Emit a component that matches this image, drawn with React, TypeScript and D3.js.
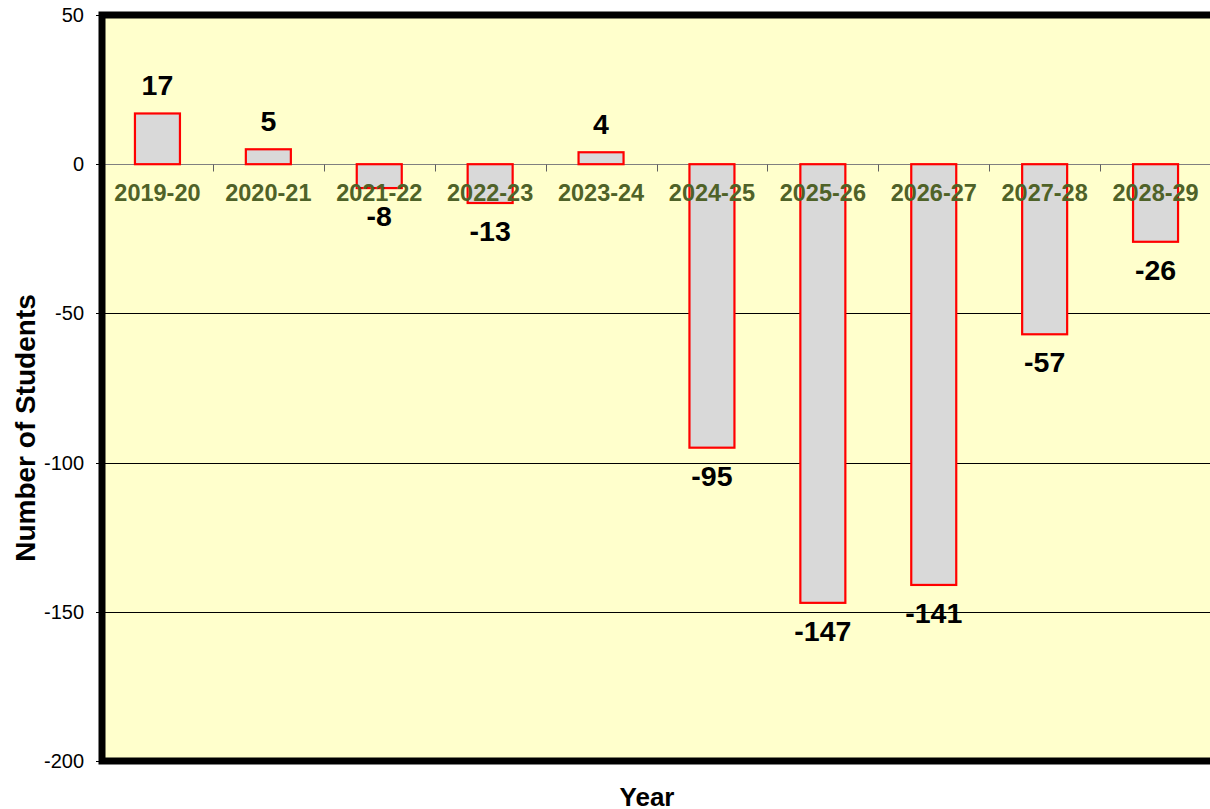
import * as d3 from 'd3';
import React, { useEffect, useRef } from 'react';

const years = [
  '2019-20',
  '2020-21',
  '2021-22',
  '2022-23',
  '2023-24',
  '2024-25',
  '2025-26',
  '2026-27',
  '2027-28',
  '2028-29'
];
const changes = [17, 5, -8, -13, 4, -95, -147, -141, -57, -26];
const yTicks = [50, 0, -50, -100, -150, -200];
const gridValues = [-50, -100, -150];

const FONT = '"Liberation Sans", Arial, Helvetica, sans-serif';

export default function App() {
  const svgRef = useRef<SVGSVGElement | null>(null);

  useEffect(() => {
    const width = 1210;
    const height = 809;

    d3.select(svgRef.current).selectAll('*').remove();

    // plot area edges (border centre line); the right edge runs past the picture
    const margin = { top: 15, right: -1, bottom: 48, left: 102 };
    const plotRight = width - margin.right;
    const plotBottom = height - margin.bottom;

    const svg = d3
      .select(svgRef.current)
      .attr('width', width)
      .attr('height', height);

    const xScale = d3
      .scaleBand<string>()
      .domain(years)
      .range([margin.left, plotRight])
      .paddingInner(0)
      .paddingOuter(0);

    const yScale = d3
      .scaleLinear()
      .domain([50, -200])
      .range([margin.top, plotBottom]);

    const barWidth = 45;

    // background of the plot area
    svg
      .append('rect')
      .attr('x', margin.left)
      .attr('y', margin.top)
      .attr('width', plotRight - margin.left + 20)
      .attr('height', plotBottom - margin.top)
      .attr('fill', '#FFFFCC');

    // gridlines
    svg
      .selectAll('.grid')
      .data(gridValues)
      .enter()
      .append('line')
      .attr('class', 'grid')
      .attr('x1', margin.left)
      .attr('x2', plotRight + 20)
      .attr('y1', (d) => Math.round(yScale(d)) + 0.5)
      .attr('y2', (d) => Math.round(yScale(d)) + 0.5)
      .attr('stroke', '#000')
      .attr('stroke-width', 1);

    // zero line and category ticks
    const y0 = Math.round(yScale(0)) + 0.5;
    svg
      .append('line')
      .attr('x1', margin.left)
      .attr('x2', plotRight + 20)
      .attr('y1', y0)
      .attr('y2', y0)
      .attr('stroke', '#808080')
      .attr('stroke-width', 1.2);

    svg
      .selectAll('.xtick')
      .data(years.slice(1))
      .enter()
      .append('line')
      .attr('class', 'xtick')
      .attr('x1', (d) => Math.round(xScale(d)!) + 0.5)
      .attr('x2', (d) => Math.round(xScale(d)!) + 0.5)
      .attr('y1', y0)
      .attr('y2', y0 + 7)
      .attr('stroke', '#606060')
      .attr('stroke-width', 1);

    // bars
    svg
      .selectAll('.bar')
      .data(changes)
      .enter()
      .append('rect')
      .attr('class', 'bar')
      .attr('x', (_, i) => xScale(years[i])! + xScale.bandwidth() / 2 - barWidth / 2)
      .attr('y', (d) => yScale(Math.max(0, d)))
      .attr('width', barWidth)
      .attr('height', (d) => Math.abs(yScale(d) - yScale(0)))
      .attr('fill', '#D9D9D9')
      .attr('stroke', '#FF0000')
      .attr('stroke-width', 2.2);

    // category labels (drawn over the bars)
    svg
      .selectAll('.cat')
      .data(years)
      .enter()
      .append('text')
      .attr('class', 'cat')
      .attr('x', (d) => xScale(d)! + xScale.bandwidth() / 2)
      .attr('y', 201)
      .attr('text-anchor', 'middle')
      .style('font-family', FONT)
      .style('font-size', '23.5px')
      .style('font-weight', 'bold')
      .attr('fill', '#4F6228')
      .text((d) => d);

    // value labels
    svg
      .selectAll('.val')
      .data(changes)
      .enter()
      .append('text')
      .attr('class', 'val')
      .attr('x', (_, i) => xScale(years[i])! + xScale.bandwidth() / 2)
      .attr('y', (d) => (d >= 0 ? yScale(d) - 18 : yScale(d) + 38))
      .attr('text-anchor', 'middle')
      .style('font-family', FONT)
      .style('font-size', '28.5px')
      .style('font-weight', 'bold')
      .attr('fill', '#000')
      .text((d) => String(d));

    // plot border (right side falls outside the picture)
    svg
      .append('rect')
      .attr('x', margin.left)
      .attr('y', margin.top)
      .attr('width', plotRight - margin.left + 20)
      .attr('height', plotBottom - margin.top)
      .attr('fill', 'none')
      .attr('stroke', '#000')
      .attr('stroke-width', 7);

    // y axis ticks and labels
    svg
      .selectAll('.ytick')
      .data(yTicks)
      .enter()
      .append('line')
      .attr('class', 'ytick')
      .attr('x1', margin.left - 6)
      .attr('x2', margin.left)
      .attr('y1', (d) => Math.round(yScale(d)) + 0.5)
      .attr('y2', (d) => Math.round(yScale(d)) + 0.5)
      .attr('stroke', '#000')
      .attr('stroke-width', 1);

    svg
      .selectAll('.ylab')
      .data(yTicks)
      .enter()
      .append('text')
      .attr('class', 'ylab')
      .attr('x', 84)
      .attr('y', (d) => yScale(d) + 7)
      .attr('text-anchor', 'end')
      .style('font-family', FONT)
      .style('font-size', '20px')
      .attr('fill', '#000')
      .text((d) => String(d));

    // axis titles
    svg
      .append('text')
      .attr('transform', `translate(35,428) rotate(-90)`)
      .attr('text-anchor', 'middle')
      .style('font-family', FONT)
      .style('font-size', '28px')
      .style('font-weight', 'bold')
      .attr('fill', '#000')
      .text('Number of Students');

    svg
      .append('text')
      .attr('x', 647)
      .attr('y', 806)
      .attr('text-anchor', 'middle')
      .style('font-family', FONT)
      .style('font-size', '26px')
      .style('font-weight', 'bold')
      .attr('fill', '#000')
      .text('Year');
  }, []);

  return (
    <div style={{ position: 'absolute', left: 0, top: 0, background: '#fff' }}>
      <svg ref={svgRef} style={{ display: 'block' }} />
    </div>
  );
}
